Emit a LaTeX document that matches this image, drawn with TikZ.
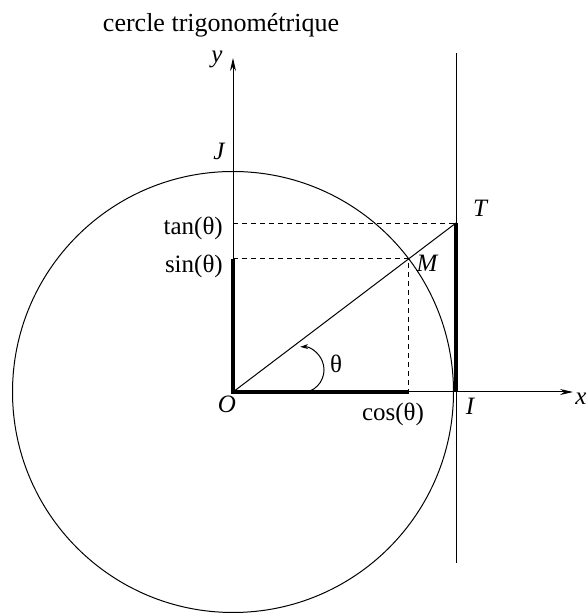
\documentclass[tikz,border=0pt]{standalone}
\usepackage{fontspec}
\setmainfont{Liberation Serif}
\usetikzlibrary{arrows.meta,calc}
\begin{document}
\begin{tikzpicture}[x=1pt,y=1pt,
  lbl/.style={inner sep=0pt,font=\fontsize{25}{30}\selectfont},
  ilbl/.style={inner sep=0pt,font=\fontsize{25}{30}\selectfont\itshape},
  normline/.style={line width=1pt},
  boldline/.style={line width=3.5pt},
  dashline/.style={line width=0.9pt,dash pattern=on 5pt off 4pt},
  axisline/.style={line width=1pt,-{Stealth[length=13pt,width=6pt]}}]
\useasboundingbox (0,0) rectangle (588,613);
\coordinate (O) at (233,221);
\coordinate (I) at (456,221);
\coordinate (M) at ($(O)+(37.2:220.5)$);
\coordinate (T) at (456,390);
\coordinate (C) at (M |- O);
\coordinate (S) at (O |- M);
\coordinate (Ta) at (O |- T);
\coordinate (X) at (573,221);
\coordinate (Y) at (233,555);
\coordinate (Ltop) at (456,560);
\coordinate (Lbot) at (456,50);
\coordinate (A0) at (310,222);
\draw[normline] (O) circle[radius=220.5];
\draw[axisline] (O) -- (X);
\draw[axisline] (O) -- (Y);
\draw[normline] (Lbot) -- (Ltop);
\draw[normline] (O) -- (T);
\draw[dashline] (Ta) -- (T);
\draw[dashline] (S) -- (M) -- (C);
\draw[boldline] (S) -- (O) -- (C);
\draw[boldline] (I) -- (T);
\draw[normline,-{Stealth[length=8pt,width=5pt]}] (A0) arc[start angle=-67,end angle=92,radius=23];
\node[inner sep=0pt,font=\fontsize{26}{30}\selectfont,anchor=base] (title) at (221,581) {cercle trigonométrique};
\node[ilbl,anchor=base] (ly) at (217,550) {y};
\node[ilbl,anchor=base] (lJ) at (219,453) {J};
\node[lbl,anchor=base east] (ltan) at (223,378) {tan(θ)};
\node[lbl,anchor=base east] (lsin) at (223,340) {sin(θ)};
\node[lbl,anchor=base] (lcos) at (393,192) {cos(θ)};
\node[ilbl,anchor=base] (lO) at (227,200) {O};
\node[ilbl,anchor=base] (lI) at (470,198) {I};
\node[ilbl,anchor=base] (lx) at (581,208) {x};
\node[ilbl,anchor=base] (lM) at (427,341) {M};
\node[ilbl,anchor=base] (lT) at (480,396) {T};
\node[lbl,anchor=base] (lth) at (336,240) {θ};
\end{tikzpicture}
\end{document}
